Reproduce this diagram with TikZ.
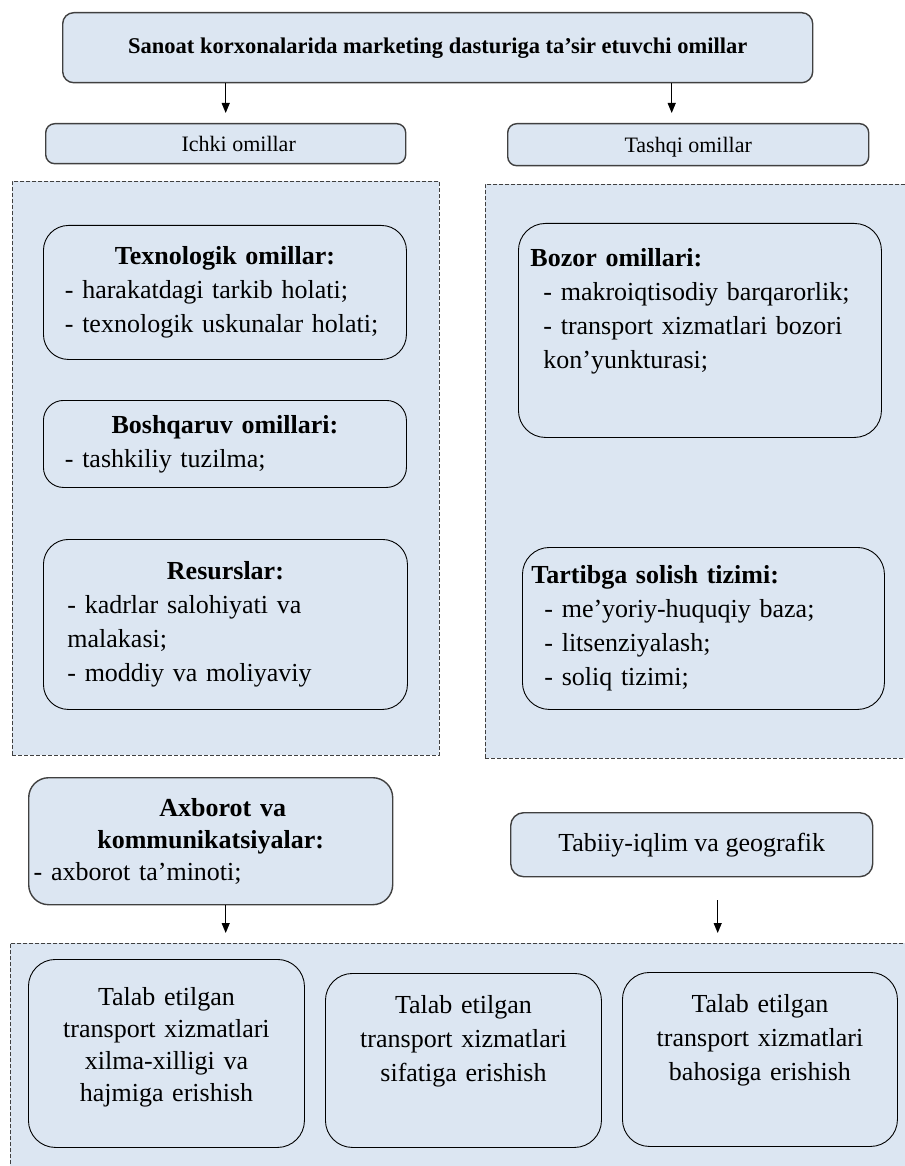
\documentclass[tikz,border=0pt]{standalone}
\usepackage{fontspec}
\setmainfont{Liberation Serif}
\usetikzlibrary{arrows.meta}
\definecolor{boxfill}{RGB}{220,230,242}
\definecolor{rimgray}{RGB}{64,64,64}
\setlength{\parindent}{0pt}

\begin{document}
\begin{tikzpicture}[
  x=1pt, y=-1pt,
  >={Triangle[length=10pt,width=8pt]},
  every node/.style={text=black, inner sep=0pt},
  group/.style={draw=rimgray, dash pattern=on 4pt off 2pt, line width=0.9pt,
    fill=boxfill, anchor=north west},
  head/.style={draw=rimgray, line width=1.4pt, fill=boxfill, rounded corners=11pt,
    anchor=north west, align=center},
  factor/.style={draw=black, line width=0.9pt, fill=boxfill, rounded corners=25pt,
    anchor=north west, align=left, font=\fontsize{26}{34}\selectfont},
  arr/.style={->, line width=1.1pt}
]
  \useasboundingbox (0,0) rectangle (904,1166);

  % dashed groups
  \node[group, minimum width=427pt, minimum height=574pt] (inner) at (12,181) {};
  \node[group, minimum width=430pt, minimum height=574pt] (outer) at (485,184) {};
  \node[group, minimum width=905pt, minimum height=235pt] (result) at (10,943) {};

  % top level
  \node[head, minimum width=750pt, minimum height=70pt,
    font=\fontsize{22.5}{27}\selectfont\bfseries] (title) at (62,12)
    {Sanoat korxonalarida marketing dasturiga ta’sir etuvchi omillar};
  \node[head, rounded corners=9pt, minimum width=360pt, minimum height=40pt,
    text height=17pt, text depth=1pt,
    font=\fontsize{22}{26}\selectfont] (ichki) at (45,123) {\hspace*{26pt}Ichki omillar};
  \node[head, rounded corners=9pt, minimum width=361pt, minimum height=42pt,
    text height=17pt, text depth=1pt,
    font=\fontsize{22}{26}\selectfont] (tashqi) at (507,123) {Tashqi omillar};

  % internal factors
  \node[factor, minimum width=363pt, minimum height=134pt, inner xsep=21.5pt,
    text width=320pt] (texno) at (43,225)
    {\makebox[\hsize]{\bfseries Texnologik omillar:}\\
     - harakatdagi tarkib holati;\\
     - texnologik uskunalar holati;};
  \node[factor, rounded corners=20pt, minimum width=363pt, minimum height=87pt,
    inner xsep=21.5pt, text width=320pt] (boshqaruv) at (43,400)
    {\makebox[\hsize]{\bfseries Boshqaruv omillari:}\\
     - tashkiliy tuzilma;};
  \node[factor, minimum width=364pt, minimum height=170pt, inner xsep=24pt,
    text width=316pt] (resurs) at (43,539)
    {\makebox[\hsize]{\bfseries Resurslar:}\\
     - kadrlar salohiyati va\\
     malakasi;\\
     - moddiy va moliyaviy};

  % external factors
  \node[factor, rounded corners=27pt, minimum width=363pt, minimum height=214pt,
    inner xsep=12pt, text width=339pt] (bozor) at (518,223)
    {\textbf{Bozor omillari:}\\
     \hspace*{13pt}- makroiqtisodiy barqarorlik;\\
     \hspace*{13pt}- transport xizmatlari bozori\\
     \hspace*{13pt}kon’yunkturasi;\\[10pt]\mbox{}};
  \node[factor, rounded corners=27pt, minimum width=362pt, minimum height=162pt,
    inner xsep=9pt, text width=344pt] (tartib) at (522,547)
    {\textbf{Tartibga solish tizimi:}\\
     \hspace*{13pt}- me’yoriy-huquqiy baza;\\
     \hspace*{13pt}- litsenziyalash;\\
     \hspace*{13pt}- soliq tizimi;};

  \node[head, rounded corners=20pt, align=left, minimum width=364pt,
    minimum height=127pt, inner xsep=5pt, text width=354pt,
    font=\fontsize{26}{32}\selectfont] (axborot) at (28,777)
    {\makebox[\hsize]{\hspace*{24pt}\bfseries Axborot va}\\
     \makebox[\hsize]{\bfseries kommunikatsiyalar:}\\
     - axborot ta’minoti;};
  \node[head, rounded corners=13pt, minimum width=362pt, minimum height=64pt,
    font=\fontsize{26}{32}\selectfont] (tabiiy) at (510,812)
    {Tabiiy-iqlim va geografik};

  % results
  \node[factor, rounded corners=27pt, align=center, font=\fontsize{26}{32}\selectfont,
    minimum width=276pt, minimum height=188pt, inner xsep=10pt, text width=256pt]
    (variety) at (28,959)
    {Talab etilgan\\transport xizmatlari\\xilma-xilligi va\\hajmiga erishish\\[-14pt]\mbox{}};
  \node[factor, rounded corners=27pt, align=center,
    minimum width=276pt, minimum height=174pt, inner xsep=10pt, text width=256pt]
    (quality) at (325,973)
    {Talab etilgan\\transport xizmatlari\\sifatiga erishish\\[10pt]\mbox{}};
  \node[factor, rounded corners=27pt, align=center,
    minimum width=275pt, minimum height=174pt, inner xsep=10pt, text width=255pt]
    (price) at (622,972)
    {Talab etilgan\\transport xizmatlari\\bahosiga erishish\\[10pt]\mbox{}};

  % arrows
  \coordinate (tashqitop) at ([xshift=-16.5pt]tashqi.north);
  \coordinate (axdrop) at ([xshift=15pt]axborot.south);
  \coordinate (tabdrop) at ([xshift=26pt]tabiiy.south);
  \draw[arr] (title.south -| ichki.north) -- ([yshift=10pt]ichki.north);
  \draw[arr] (tashqitop |- title.south) -- ([yshift=10pt]tashqitop);
  \draw[arr, shorten >=10pt] (axdrop) -- (axdrop |- result.north);
  \draw[arr, shorten <=23pt, shorten >=10pt] (tabdrop) -- (tabdrop |- result.north);
\end{tikzpicture}
\end{document}
